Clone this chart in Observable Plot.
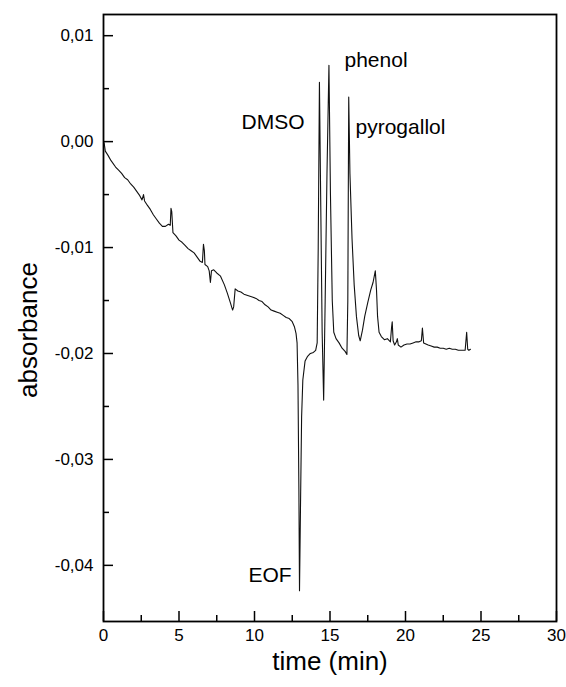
<!DOCTYPE html>
<html>
<head>
<meta charset="utf-8">
<script src="https://cdn.jsdelivr.net/npm/d3@7"></script>
<script src="https://cdn.jsdelivr.net/npm/@observablehq/plot@0.6"></script>
</head>
<body style="margin:0;padding:0;background:#fff">
<div id="chart" style="position:absolute;left:0;top:0"></div>
<script>
// ---- data ----
const time = [
  0.00, 0.05, 0.12, 0.30, 0.50, 0.80, 1.00, 1.20, 1.40, 1.60, 1.80, 2.00, 2.20, 2.40, 2.55, 2.65, 2.72,
  2.90, 3.10, 3.30, 3.50, 3.70, 3.90, 4.10, 4.30, 4.42, 4.47, 4.52, 4.60, 4.80, 5.00, 5.20, 5.40,
  5.60, 5.80, 6.00, 6.20, 6.40, 6.55, 6.62, 6.68, 6.72, 6.90, 7.00, 7.08, 7.15, 7.30, 7.50, 7.75,
  8.00, 8.20, 8.40, 8.55, 8.62, 8.72, 8.90, 9.10, 9.30, 9.50, 9.70, 9.90, 10.10, 10.30, 10.50,
  10.70, 10.90, 11.10, 11.30, 11.50, 11.70, 11.90, 12.10, 12.30, 12.50, 12.65, 12.75, 12.82,
  12.88, 12.94, 12.98, 13.05, 13.12, 13.20, 13.35, 13.50, 13.70, 13.90, 14.05, 14.15, 14.22,
  14.30, 14.38, 14.48, 14.58, 14.68, 14.80, 14.93, 15.03, 15.15, 15.25, 15.40, 15.60, 15.80,
  16.00, 16.12, 16.18, 16.24, 16.32, 16.46, 16.60, 16.75, 16.90, 17.00, 17.15, 17.30, 17.50,
  17.70, 17.85, 18.00, 18.08, 18.15, 18.25, 18.40, 18.60, 18.80, 19.00, 19.08, 19.12, 19.18,
  19.28, 19.40, 19.46, 19.52, 19.70, 19.90, 20.10, 20.30, 20.50, 20.70, 20.90, 21.05, 21.12,
  21.20, 21.35, 21.50, 21.70, 21.90, 22.10, 22.30, 22.50, 22.70, 22.90, 23.10, 23.30, 23.50,
  23.70, 23.95, 24.05, 24.12, 24.20, 24.30
];
const absorbance = [
  0.0000, -0.0002, -0.0009, -0.0013, -0.0018, -0.0024, -0.0027, -0.0030, -0.0034, -0.0036, -0.0040, -0.0043, -0.0047, -0.0051, -0.0055, -0.0050, -0.0056,
  -0.0060, -0.0064, -0.0069, -0.0073, -0.0077, -0.0080, -0.0080, -0.0078, -0.0079, -0.0063, -0.0066, -0.0086, -0.0089, -0.0093, -0.0095, -0.0098,
  -0.0101, -0.0103, -0.0105, -0.0109, -0.0113, -0.0114, -0.0097, -0.0103, -0.0116, -0.0118, -0.0122, -0.0133, -0.0122, -0.0121, -0.0124, -0.0127,
  -0.0135, -0.0143, -0.0152, -0.0159, -0.0156, -0.0139, -0.0141, -0.0142, -0.0144, -0.0145, -0.0146, -0.0147, -0.0148, -0.0150, -0.0151,
  -0.0154, -0.0156, -0.0159, -0.0160, -0.0161, -0.0162, -0.0164, -0.0166, -0.0167, -0.0170, -0.0175, -0.0181, -0.0190,
  -0.0230, -0.0330, -0.0424, -0.0340, -0.0260, -0.0225, -0.0207, -0.0203, -0.0200, -0.0199, -0.0197, -0.0190, -0.0100,
  0.0056, -0.0050, -0.0180, -0.0244, -0.0150, -0.0030, 0.0072, -0.0050, -0.0150, -0.0180, -0.0186, -0.0190, -0.0195,
  -0.0198, -0.0201, -0.0150, 0.0042, -0.0030, -0.0092, -0.0135, -0.0165, -0.0183, -0.0188, -0.0178, -0.0165, -0.0152,
  -0.0140, -0.0133, -0.0122, -0.0140, -0.0165, -0.0180, -0.0184, -0.0187, -0.0186, -0.0189, -0.0175, -0.0170, -0.0188,
  -0.0192, -0.0189, -0.0186, -0.0192, -0.0194, -0.0192, -0.0191, -0.0191, -0.0190, -0.0189, -0.0189, -0.0188, -0.0176,
  -0.0190, -0.0191, -0.0192, -0.0193, -0.0194, -0.0194, -0.0195, -0.0195, -0.0196, -0.0195, -0.0196, -0.0196, -0.0197,
  -0.0197, -0.0197, -0.0180, -0.0196, -0.0197, -0.0196
];

// peak annotations
const peakNames = ["phenol", "DMSO", "pyrogallol", "EOF"];
const peakLabelTime = [15.96, 9.14, 16.69, 9.60];
const peakLabelAbs = [0.0070, 0.0012, 0.0007, -0.0416];

// axes
const xDomain = [0, 30];
const yDomain = [-0.0453, 0.0120];
const xMajorTicks = [0, 5, 10, 15, 20, 25, 30];
const xMinorTicks = [2.5, 7.5, 12.5, 17.5, 22.5, 27.5];
const yMajorTicks = [0.01, 0.00, -0.01, -0.02, -0.03, -0.04];
const yMinorTicks = [0.005, -0.005, -0.015, -0.025, -0.035];
const xTitle = "time (min)";
const yTitle = "absorbance";

// ---- layout ----
const W = 566, H = 687;
const ML = 103, MR = 10, MT = 14, MB = 66;
const plotW = W - ML - MR, plotH = H - MT - MB;
const majorLen = 10, minorLen = 6;

const series = time.map((t, i) => ({t, a: absorbance[i]}));
const labels = peakNames.map((n, i) => ({n, t: peakLabelTime[i], a: peakLabelAbs[i]}));
const fmt = d => d.toFixed(2).replace(".", ",");

const chart = Plot.plot({
  width: W, height: H,
  marginLeft: ML, marginRight: MR, marginTop: MT, marginBottom: MB,
  style: {fontFamily: "'Liberation Sans', Arial, sans-serif", color: "#000", background: "#fff"},
  x: {domain: xDomain, label: null},
  y: {domain: yDomain, label: null},
  marks: [
    Plot.axisX(xMajorTicks, {tickSize: 0, tickPadding: 7, fontSize: 17, tickFormat: d => String(d), fill: "#000"}),
    Plot.axisY(yMajorTicks, {tickSize: 0, tickPadding: 10, fontSize: 17, tickFormat: fmt, fill: "#000"}),
    Plot.line(series, {x: "t", y: "a", stroke: "#111", strokeWidth: 1.1}),
    Plot.frame({stroke: "#000", strokeWidth: 1.8}),
    Plot.text(labels, {x: "t", y: "a", text: "n", textAnchor: "start", lineAnchor: "bottom", fontSize: 21, fill: "#000"}),
    Plot.text([xTitle], {frameAnchor: "bottom", textAnchor: "middle", dy: 40, fontSize: 26, fill: "#000", lineAnchor: "middle"}),
    Plot.text([yTitle], {frameAnchor: "left", textAnchor: "middle", dx: -75, dy: 12, rotate: -90, fontSize: 26, fill: "#000", lineAnchor: "middle"}),
    // inward tick marks, drawn last so nothing covers them
    Plot.ruleX(xMajorTicks, {x: d => d, insetTop: plotH - majorLen, stroke: "#000", strokeWidth: 1.5}),
    Plot.ruleX(xMinorTicks, {x: d => d, insetTop: plotH - minorLen, stroke: "#000", strokeWidth: 1.5}),
    Plot.ruleY(yMajorTicks, {y: d => d, insetRight: plotW - majorLen, stroke: "#000", strokeWidth: 1.5}),
    Plot.ruleY(yMinorTicks, {y: d => d, insetRight: plotW - minorLen, stroke: "#000", strokeWidth: 1.5})
  ]
});
document.getElementById("chart").appendChild(chart);
</script>
</body>
</html>
